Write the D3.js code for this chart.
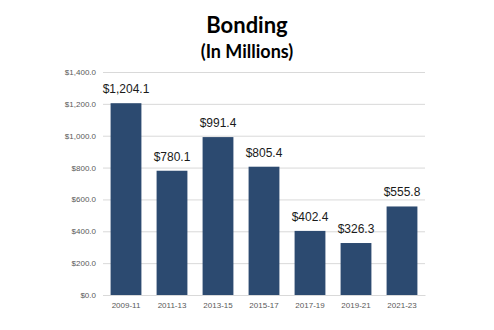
<!DOCTYPE html>
<html><head><meta charset="utf-8">
<script src="https://cdn.jsdelivr.net/npm/d3@7"></script>
<style>body{margin:0;background:#fff;}svg{display:block;}</style>
</head><body>
<script>
const categories = ["2009-11","2011-13","2013-15","2015-17","2017-19","2019-21","2021-23"];
const values = [1204.1, 780.1, 991.4, 805.4, 402.4, 326.3, 555.8];
const yTicks = [0, 200, 400, 600, 800, 1000, 1200, 1400];
const title = "Bonding";
const subtitle = "(In Millions)";

const W = 494, H = 330;
const svg = d3.select("body").append("svg").attr("width", W).attr("height", H);

const x = d3.scaleBand().domain(categories).range([103, 425]).paddingInner(0.33).paddingOuter(0.165);
const y = d3.scaleLinear().domain([0, 1400]).range([295, 72]);

svg.append("text").attr("x", 247).attr("y", 33).attr("text-anchor", "middle")
  .attr("font-family", "Lato, 'Open Sans', sans-serif").attr("font-weight", "bold").attr("font-size", 22)
  .attr("fill", "#000").text(title);
svg.append("text").attr("x", 247).attr("y", 58).attr("text-anchor", "middle")
  .attr("font-family", "Lato, 'Open Sans', sans-serif").attr("font-weight", "bold").attr("font-size", 18)
  .attr("fill", "#000").text(subtitle);

const fmt = d3.format(",.1f");

const yAxis = d3.axisLeft(y).tickValues(yTicks).tickSize(-(425 - 103)).tickFormat(d => "$" + fmt(d)).tickPadding(7);
const gy = svg.append("g").attr("transform", "translate(103,0)").call(yAxis);
gy.select(".domain").remove();
gy.selectAll(".tick line").attr("stroke", "#d9d9d9").attr("stroke-width", 1);
gy.selectAll(".tick text").attr("fill", "#595959").attr("font-family", "'Liberation Sans', Arial, sans-serif").attr("font-size", 8);

const xAxis = d3.axisBottom(x).tickSize(0).tickPadding(7);
const gx = svg.append("g").attr("transform", "translate(0,295)").call(xAxis);
gx.select(".domain").attr("stroke", "#d9d9d9");
gx.selectAll(".tick text").attr("fill", "#595959").attr("font-family", "'Liberation Sans', Arial, sans-serif").attr("font-size", 8);

svg.append("g").selectAll("rect").data(values).join("rect")
  .attr("x", (d, i) => x(categories[i]))
  .attr("width", x.bandwidth())
  .attr("y", d => y(d))
  .attr("height", d => y(0) - y(d))
  .attr("fill", "#2c4a70");

svg.append("g").selectAll("text").data(values).join("text")
  .attr("x", (d, i) => x(categories[i]) + x.bandwidth() / 2)
  .attr("y", d => y(d) - 10)
  .attr("text-anchor", "middle")
  .attr("font-family", "'Liberation Sans', Arial, sans-serif").attr("font-size", 12)
  .attr("fill", "#1a1a1a")
  .text(d => "$" + fmt(d));
</script>
</body></html>
